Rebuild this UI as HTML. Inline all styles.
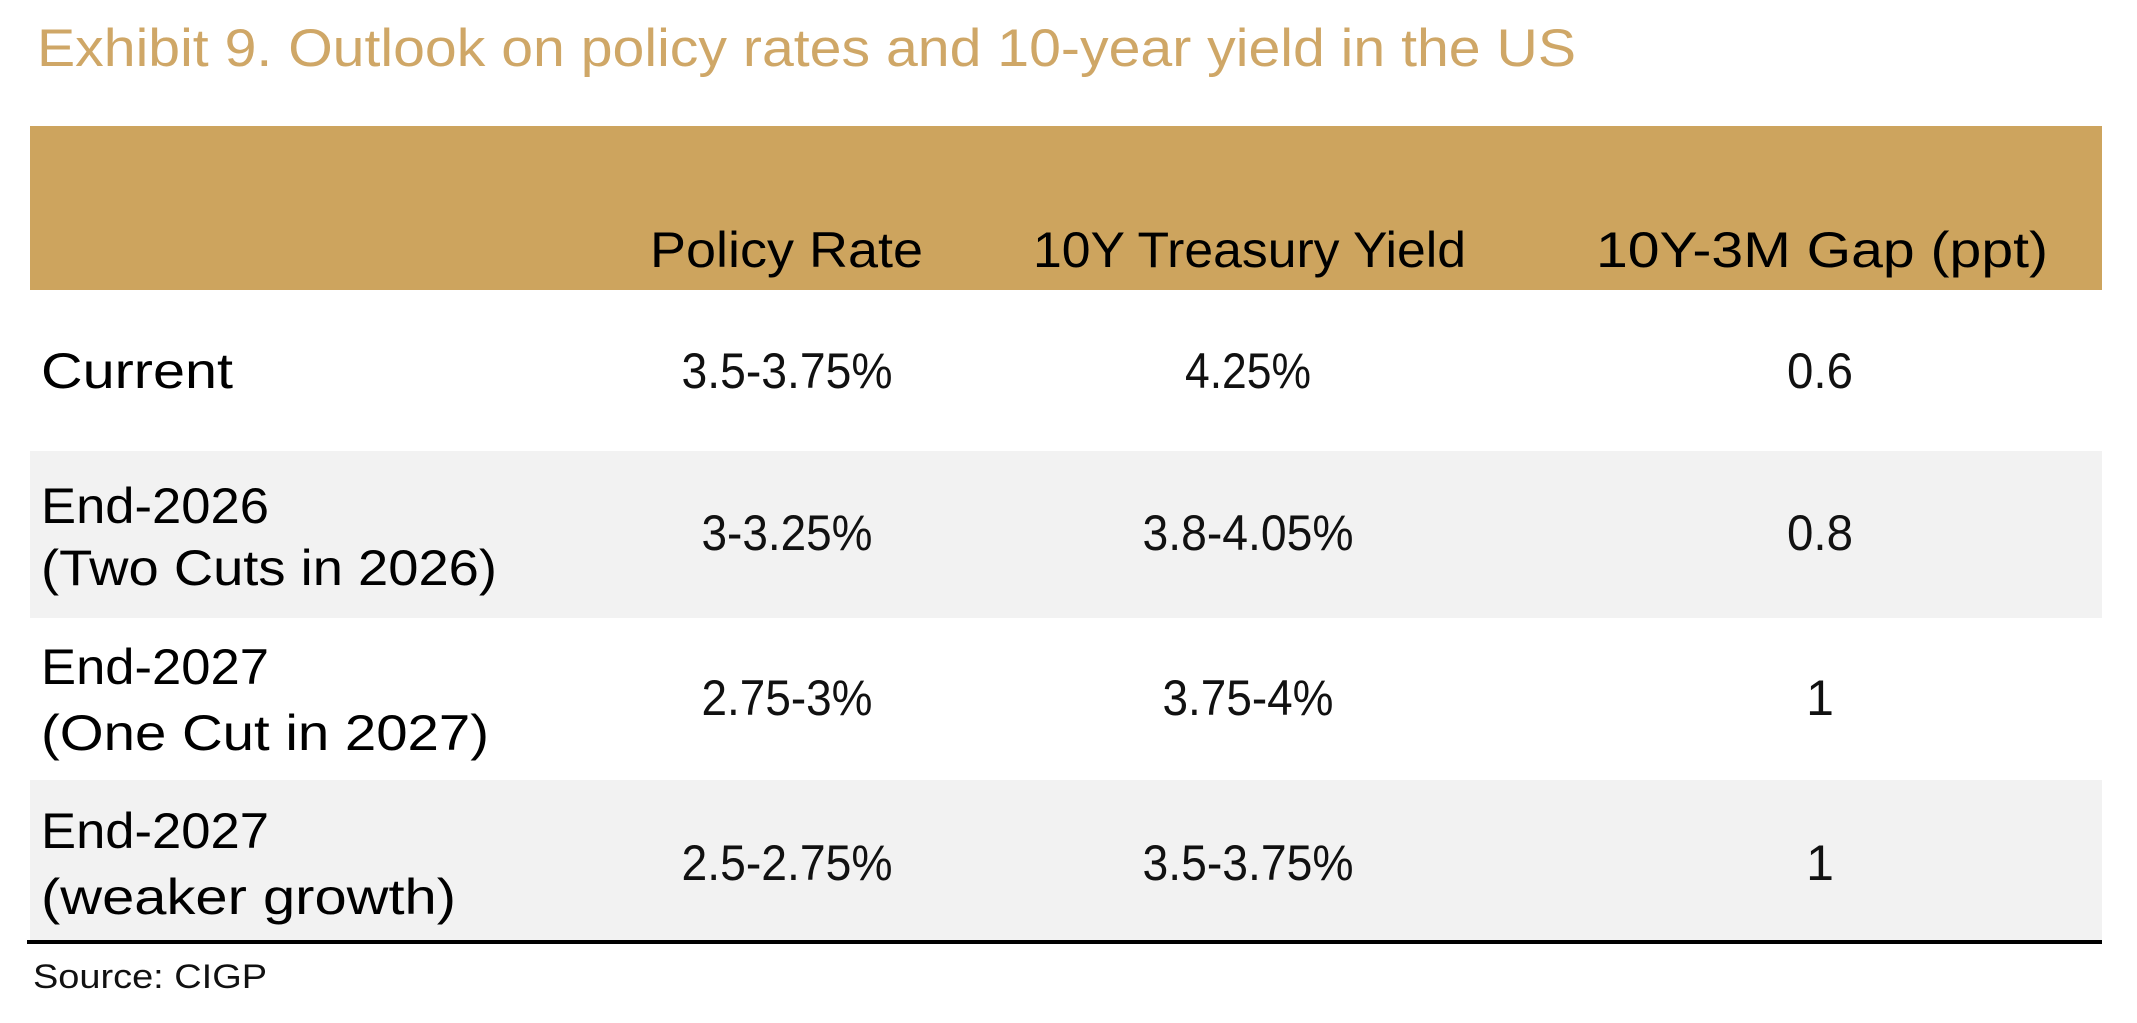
<!DOCTYPE html>
<html><head><meta charset="utf-8"><style>
html,body{margin:0;padding:0;background:#fff;width:2137px;height:1023px;overflow:hidden}
svg{display:block}
text{font-family:"Liberation Sans",sans-serif}
.h{font-size:50px;fill:#000}
.l{font-size:50px;fill:#000}
.v{font-size:50px;fill:#111;text-anchor:middle}
</style></head><body>
<svg width="2137" height="1023" viewBox="0 0 2137 1023" xmlns="http://www.w3.org/2000/svg">
<text x="37" y="66" font-size="53" fill="#CFA767" textLength="1539" lengthAdjust="spacingAndGlyphs">Exhibit 9. Outlook on policy rates and 10-year yield in the US</text>
<rect x="30" y="126" width="2072" height="164" fill="#CDA45E"/>
<rect x="30" y="451" width="2072" height="167" fill="#F2F2F2"/>
<rect x="30" y="780" width="2072" height="162" fill="#F2F2F2"/>
<rect x="27" y="940" width="2075" height="4" fill="#000"/>
<text class="h" x="650" y="267" textLength="273" lengthAdjust="spacingAndGlyphs">Policy Rate</text>
<text class="h" x="1033" y="267" textLength="433" lengthAdjust="spacingAndGlyphs">10Y Treasury Yield</text>
<text class="h" x="1596" y="267" textLength="452" lengthAdjust="spacingAndGlyphs">10Y-3M Gap (ppt)</text>

<text class="l" x="41" y="388" textLength="192" lengthAdjust="spacingAndGlyphs">Current</text>
<text class="l" x="41" y="523" textLength="228" lengthAdjust="spacingAndGlyphs">End-2026</text>
<text class="l" x="41" y="585" textLength="456" lengthAdjust="spacingAndGlyphs">(Two Cuts in 2026)</text>
<text class="l" x="41" y="684" textLength="228" lengthAdjust="spacingAndGlyphs">End-2027</text>
<text class="l" x="41" y="750" textLength="448" lengthAdjust="spacingAndGlyphs">(One Cut in 2027)</text>
<text class="l" x="41" y="848" textLength="228" lengthAdjust="spacingAndGlyphs">End-2027</text>
<text class="l" x="41" y="914" textLength="415" lengthAdjust="spacingAndGlyphs">(weaker growth)</text>

<text class="v" x="787" y="388" textLength="211" lengthAdjust="spacingAndGlyphs">3.5-3.75%</text>
<text class="v" x="1248" y="388" textLength="126" lengthAdjust="spacingAndGlyphs">4.25%</text>
<text class="v" x="1820" y="388" textLength="66" lengthAdjust="spacingAndGlyphs">0.6</text>

<text class="v" x="787" y="550" textLength="171" lengthAdjust="spacingAndGlyphs">3-3.25%</text>
<text class="v" x="1248" y="550" textLength="211" lengthAdjust="spacingAndGlyphs">3.8-4.05%</text>
<text class="v" x="1820" y="550" textLength="66" lengthAdjust="spacingAndGlyphs">0.8</text>

<text class="v" x="787" y="715" textLength="171" lengthAdjust="spacingAndGlyphs">2.75-3%</text>
<text class="v" x="1248" y="715" textLength="171" lengthAdjust="spacingAndGlyphs">3.75-4%</text>
<text class="v" x="1820" y="715">1</text>

<text class="v" x="787" y="880" textLength="211" lengthAdjust="spacingAndGlyphs">2.5-2.75%</text>
<text class="v" x="1248" y="880" textLength="211" lengthAdjust="spacingAndGlyphs">3.5-3.75%</text>
<text class="v" x="1820" y="880">1</text>

<text x="33" y="988" font-size="34" fill="#111" textLength="234" lengthAdjust="spacingAndGlyphs">Source: CIGP</text>
</svg>
</body></html>
